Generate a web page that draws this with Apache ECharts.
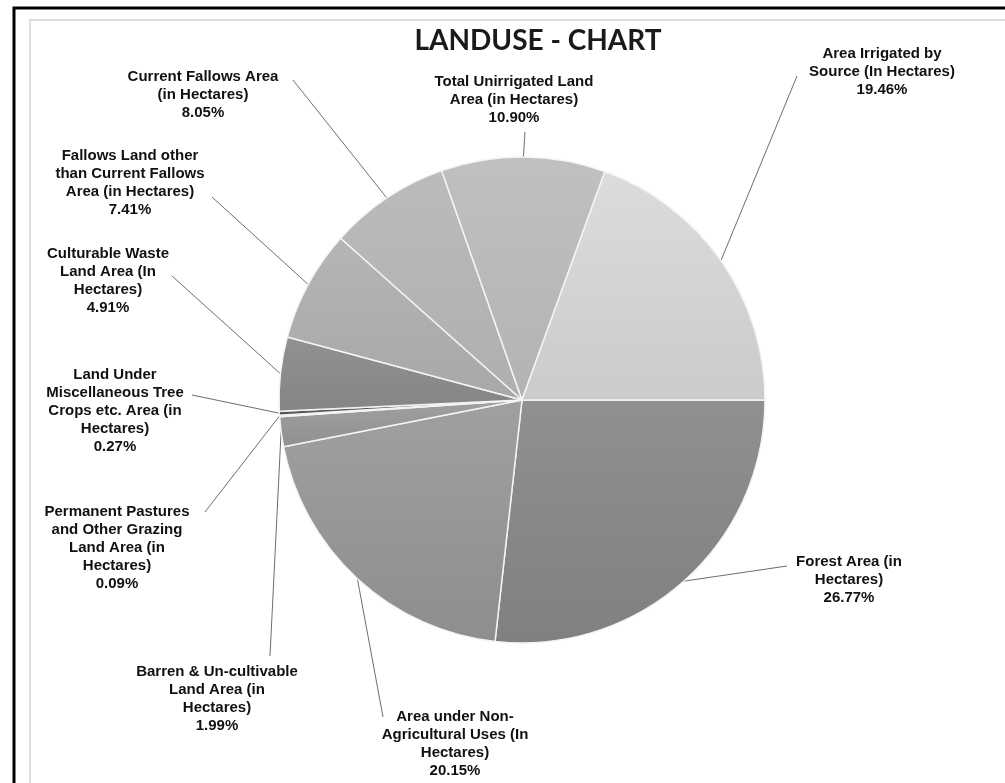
<!DOCTYPE html>
<html><head><meta charset="utf-8">
<script src="https://cdn.jsdelivr.net/npm/echarts@6/dist/echarts.min.js"></script>
<style>html,body{margin:0;padding:0;background:#fff}#c{width:1005px;height:783px}</style>
</head><body><div id="c"></div>
<script>
// ---- data ----
const categories = [
  'Forest Area (in\nHectares)',
  'Area under Non-\nAgricultural Uses (In\nHectares)',
  'Barren & Un-cultivable\nLand Area (in\nHectares)',
  'Permanent Pastures\nand Other Grazing\nLand Area (in\nHectares)',
  'Land Under\nMiscellaneous Tree\nCrops etc. Area (in\nHectares)',
  'Culturable Waste\nLand Area (In\nHectares)',
  'Fallows Land other\nthan Current Fallows\nArea (in Hectares)',
  'Current Fallows Area\n(in Hectares)',
  'Total Unirrigated Land\nArea (in Hectares)',
  'Area Irrigated by\nSource (In Hectares)'
];
const percentValues = [26.77, 20.15, 1.99, 0.09, 0.27, 4.91, 7.41, 8.05, 10.90, 19.46];
const chartTitle = 'LANDUSE - CHART';

// ---- styles / layout ----
const sliceColors = [
  ['#909090', '#808080'],
  ['#a0a0a0', '#8e8e8e'],
  ['#a0a0a0', '#909090'],
  ['#7a7a7a', '#6a6a6a'],
  ['#606060', '#555555'],
  ['#919191', '#858585'],
  ['#b5b5b5', '#a8a8a8'],
  ['#bbbbbb', '#afafaf'],
  ['#c0c0c0', '#b3b3b3'],
  ['#dcdcdc', '#cbcbcb']
];
// [label centre x, label top y, leader end x, leader end y]
const labelPlace = [
  [849, 553, 787, 566],
  [455, 708, 383, 717],
  [217, 663, 270, 656],
  [117, 503, 205, 512],
  [115, 366, 192, 395],
  [108, 245, 172, 276],
  [130, 147, 212, 197],
  [203, 68, 293, 80],
  [514, 73, 525, 132],
  [882, 45, 797, 76]
];

const chart = echarts.init(document.getElementById('c'), null, {renderer: 'canvas'});
chart.setOption({
  backgroundColor: '#ffffff',
  animation: false,
  title: {
    text: chartTitle,
    left: 533, top: 22, textAlign: 'center',
    textStyle: {fontFamily: 'Lato', fontWeight: 'bold', fontSize: 28, color: '#1a1a1a'}
  },
  graphic: [
    {type: 'rect', shape: {x: 14, y: 8, width: 1010, height: 800}, style: {fill: 'none', stroke: '#000', lineWidth: 3}, silent: true},
    {type: 'polyline', shape: {points: [[30, 783], [30, 20], [1005, 20]]}, style: {fill: 'none', stroke: '#d4d4d4', lineWidth: 1.5}, silent: true}
  ],
  series: [{
    type: 'pie',
    center: [522, 400],
    radius: 243,
    startAngle: 0,
    clockwise: true,
    avoidLabelOverlap: false,
    data: categories.map((n, i) => ({
      name: n, value: percentValues[i],
      itemStyle: {color: {type: 'linear', x: 0, y: 0, x2: 0, y2: 1,
        colorStops: [{offset: 0, color: sliceColors[i][0]}, {offset: 1, color: sliceColors[i][1]}]}}
    })),
    itemStyle: {borderColor: '#f4f4f4', borderWidth: 1.5},
    label: {
      show: true, position: 'outside',
      formatter: function (p) { return p.name + '\n' + p.percent.toFixed(2) + '%'; },
      fontFamily: 'Liberation Sans', fontWeight: 'bold', fontSize: 15,
      lineHeight: 18, color: '#111', align: 'center'
    },
    labelLine: {show: true, length: 10, length2: 10, lineStyle: {color: '#6e6e6e', width: 1}},
    labelLayout: function (params) {
      const p = labelPlace[params.dataIndex];
      const start = params.labelLinePoints ? params.labelLinePoints[0] : [p[2], p[3]];
      return {
        x: p[0], y: p[1], align: 'center', verticalAlign: 'top',
        labelLinePoints: [start, [p[2], p[3]], [p[2], p[3]]]
      };
    }
  }]
});
</script></body></html>
